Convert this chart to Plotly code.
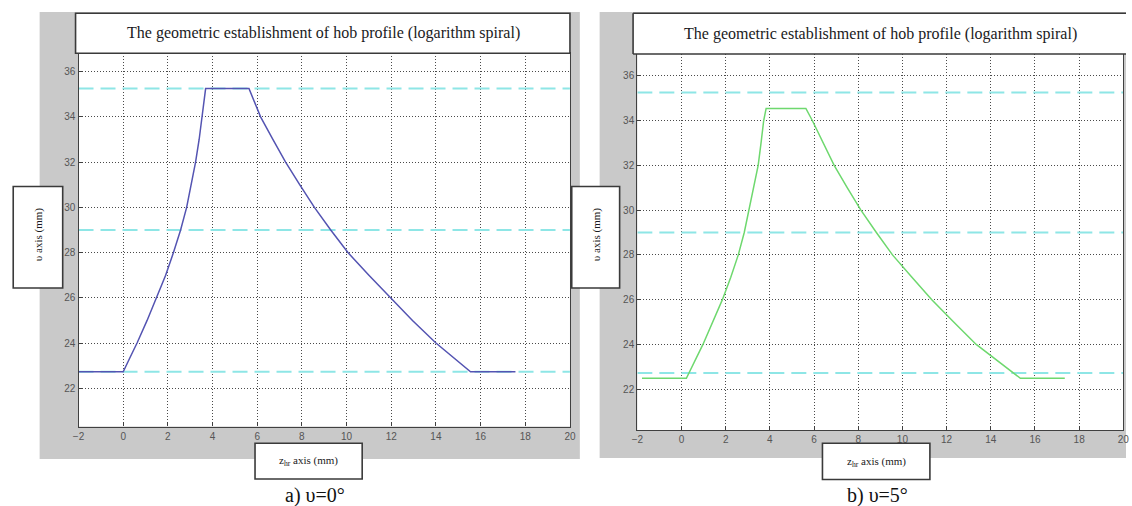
import plotly.graph_objects as go

W, H = 1132, 506

# ---------------- data ----------------
# panel a) v = 0 deg  (blue profile)
a_z = [-2.0, 0.0, 0.3, 0.62, 1.07, 1.5, 1.9, 2.25, 2.57, 2.84, 3.05, 3.24, 3.40, 3.54, 3.69,
       5.63, 6.15, 6.70, 7.27, 7.90, 8.56, 9.29, 10.06, 11.0, 11.96, 12.95, 14.0, 15.55, 17.56]
a_u = [22.73, 22.73, 23.35, 24, 25, 26, 27, 28, 29, 30, 31, 32, 33, 34, 35.25,
       35.25, 34, 33, 32, 31, 30, 29, 28, 27, 26, 25, 24, 22.73, 22.73]
# panel b) v = 5 deg  (green profile)
b_z = [-1.79, 0.22, 0.97, 1.42, 1.85, 2.23, 2.57, 2.84, 3.06, 3.28, 3.47, 3.60, 3.72, 3.83,
       5.63, 5.92, 6.40, 6.91, 7.50, 8.12, 8.82, 9.55, 10.43, 11.33, 12.32, 13.34, 15.34, 17.35]
b_u = [22.49, 22.49, 24, 25, 26, 27, 28, 29, 30, 31, 32, 33, 34, 34.54,
       34.54, 34, 33, 32, 31, 30, 29, 28, 27, 26, 25, 24, 22.49, 22.49]
# reference (dashed cyan) levels, same in both panels
ref_levels = [35.25, 29.0, 22.73]
ref_span = [-2, 20]

x_ticks = [-2, 0, 2, 4, 6, 8, 10, 12, 14, 16, 18, 20]
y_ticks = [22, 24, 26, 28, 30, 32, 34, 36]

title_text = "The geometric establishment of hob profile (logarithm spiral)"
xlabel_text = "z<sub>hr</sub> axis (mm)"
ylabel_text = "υ axis (mm)"
captions = ["a) υ=0°", "b) υ=5°"]

# ---------------- helpers ----------------
def px(x):
    return x / W

def py(y):
    return 1 - y / H

GRAY = "#c9c9c9"
BOXLINE = "#3a3a3a"
CYAN = "#8ee6e6"

fig = go.Figure()

# cyan reference lines + profile for each panel
for ax, (zs, us, col) in zip(["", "2"], [(a_z, a_u, "#5454b2"), (b_z, b_u, "#6ed86e")]):
    for lv in ref_levels:
        fig.add_trace(go.Scatter(x=ref_span, y=[lv, lv], mode="lines",
                                 line=dict(color=CYAN, width=2, dash="15px,7px"),
                                 xaxis="x" + ax, yaxis="y" + ax, showlegend=False,
                                 hoverinfo="skip"))
    fig.add_trace(go.Scatter(x=zs, y=us, mode="lines", line=dict(color=col, width=1.5),
                             xaxis="x" + ax, yaxis="y" + ax, showlegend=False))

axis_common = dict(
    showgrid=True, gridcolor="#4a4a4a", griddash="1px,2px", gridwidth=1,
    zeroline=False, showline=True, linecolor="#404040", linewidth=1.2, mirror=True,
    ticks="inside", ticklen=4, tickcolor="#404040",
    tickfont=dict(family="Liberation Sans, Arial", size=10, color="#555555"),
)

# panel geometry (pixels)
A = dict(x0=73.3, x1=570.0, y0=53.3, y1=426.5, yr=[20.31, 36.81])
B = dict(x0=638.1, x1=1129.3, y0=54.0, y1=430.0, yr=[20.18, 36.97])

fig.update_layout(
    width=W, height=H, margin=dict(l=0, r=0, t=0, b=0),
    paper_bgcolor="white", plot_bgcolor="white",
    xaxis=dict(domain=[px(A["x0"]), px(A["x1"])], range=[-2, 20], tickvals=x_ticks,
               anchor="y", **axis_common),
    yaxis=dict(domain=[py(A["y1"]), py(A["y0"])], range=A["yr"], tickvals=y_ticks,
               anchor="x", **axis_common),
    xaxis2=dict(domain=[px(B["x0"]), px(B["x1"])], range=[-2, 20], tickvals=x_ticks,
                anchor="y2", **axis_common),
    yaxis2=dict(domain=[py(B["y1"]), py(B["y0"])], range=B["yr"], tickvals=y_ticks,
                anchor="x2", **axis_common),
)

shapes = []
def rect(x0, y0, x1, y1, fill, line=None, lw=0, layer="below"):
    shapes.append(dict(type="rect", xref="paper", yref="paper",
                       x0=px(x0), x1=px(x1), y0=py(y1), y1=py(y0),
                       fillcolor=fill, line=dict(color=line or fill, width=lw),
                       layer=layer))

def seg(x0, y0, x1, y1, color, lw):
    shapes.append(dict(type="line", xref="paper", yref="paper",
                       x0=px(x0), x1=px(x1), y0=py(y0), y1=py(y1),
                       line=dict(color=color, width=lw), layer="above"))

# gray figure backgrounds
rect(34, 12, 580, 459, GRAY)
rect(600, 12, 1132, 458, GRAY)
# white plot areas
rect(A["x0"], A["y0"], A["x1"], A["y1"], "white")
rect(B["x0"], B["y0"], B["x1"], B["y1"], "white")
# text boxes
rect(70.3, 13.3, 570, 53.3, "white", BOXLINE, 1.6, "above")
# right title box runs off the right edge: white fill + three borders
rect(633.8, 13.3, 1132, 54, "white", None, 0, "above")
seg(633.8, 13.3, 1132, 13.3, BOXLINE, 1.6)
seg(633.8, 54, 1132, 54, BOXLINE, 1.6)
seg(633.8, 13.3, 633.8, 54, BOXLINE, 1.6)
rect(7.3, 186.5, 57.3, 288, "white", BOXLINE, 1.6, "above")
rect(571.8, 186.5, 620.2, 288, "white", BOXLINE, 1.6, "above")
rect(251.7, 443.3, 360, 479, "white", BOXLINE, 1.6, "above")
rect(825.2, 443.3, 933.8, 479.5, "white", BOXLINE, 1.6, "above")
fig.update_layout(shapes=shapes)

ann = []
def text(x, y, s, size, angle=0, color="#1a1a22"):
    ann.append(dict(xref="paper", yref="paper", x=px(x), y=py(y), text=s,
                    showarrow=False, textangle=angle, xanchor="center", yanchor="middle",
                    font=dict(family="Liberation Serif, Times New Roman", size=size,
                              color=color)))

text(320.5, 33.5, title_text, 16)
text(883.6, 33.8, title_text, 16)
text(32.5, 235, ylabel_text, 11, -90)
text(596.5, 235, ylabel_text, 11, -90)
text(306, 461, xlabel_text, 11)
text(879.5, 461.5, xlabel_text, 11)
text(312, 495, captions[0], 20, color="#111111")
text(881, 495, captions[1], 20, color="#111111")
fig.update_layout(annotations=ann)

fig.write_html(
    "out.html",
    config={"displayModeBar": False},
    post_script="document.body.style.margin='0';document.body.style.padding='0';"
                "document.body.style.overflow='hidden';"
                "document.documentElement.style.overflow='hidden';",
)
